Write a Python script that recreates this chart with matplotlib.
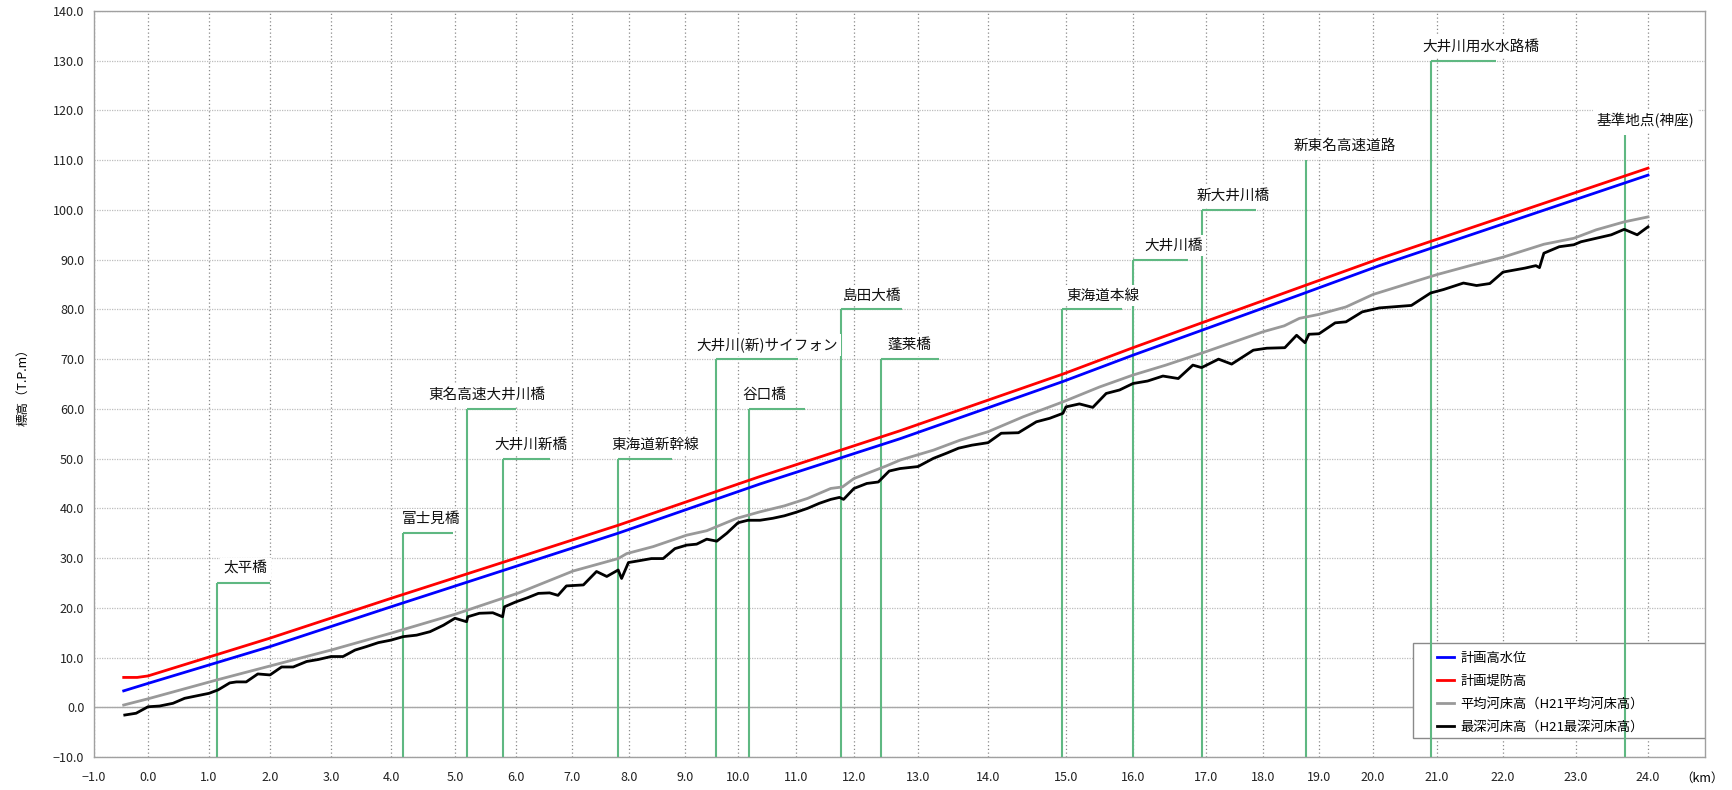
import matplotlib
matplotlib.use("Agg")
import matplotlib.pyplot as plt
from matplotlib.patches import Rectangle
import numpy as np

plt.rcParams['font.family'] = ['Noto Sans CJK JP', 'DejaVu Sans']

# axis ticks (km) and where the Excel chart actually put them (pixels, irregular spacing)
tick_km = list(range(-1, 26))
grid_px = [94, 148, 209, 270, 331, 391, 455, 516, 572, 629, 685, 738, 796, 854,
           918, 988, 1066, 1133, 1206, 1263, 1319, 1373, 1437, 1503, 1576, 1648, 1720]
y_ticks = list(range(-10, 141, 10))

# 計画堤防高
red_km = [-0.45, -0.2, 0.0, 2.0, 4.0, 7.81, 10.38, 12.72, 14.96, 16.0, 18.65, 20.1, 24.0]
red_h = [6.0, 6.0, 6.3, 13.9, 21.9, 36.6, 46.4, 55.6, 67.0, 72.3, 84.4, 90.2, 108.4]

# 計画高水位
blue_km = [-0.45, 0.0, 2.0, 4.0, 7.81, 10.38, 12.72, 14.96, 16.0, 18.65, 20.1, 24.0]
blue_h = [3.3, 4.8, 12.2, 20.2, 35.0, 44.9, 54.0, 65.5, 70.8, 82.9, 88.8, 107.0]

# 平均河床高
gray_km = [-0.45, 0.0, 1.13, 2.0, 3.0, 4.0, 5.0, 6.05, 7.02, 7.81, 7.96, 8.43, 9.03, 9.41, 9.98,
           10.38, 10.8, 11.2, 11.6, 11.8, 12.0, 12.3, 12.5, 12.72, 13.22, 13.6, 14.0, 14.45, 14.96,
           15.5, 16.0, 16.45, 16.94, 17.5, 18.0, 18.38, 18.65, 19.0, 19.5, 20.0, 20.5, 21.0, 21.5,
           22.0, 22.56, 22.97, 23.28, 23.67, 24.0]
gray_h = [0.45, 1.7, 5.5, 8.3, 11.5, 14.9, 18.7, 23.0, 27.4, 29.9, 30.9, 32.3, 34.6, 35.5, 38.0,
          39.3, 40.5, 42.0, 44.0, 44.3, 46.0, 47.5, 48.5, 49.7, 51.7, 53.7, 55.4, 58.4, 61.4,
          64.4, 66.8, 68.8, 71.2, 73.5, 75.5, 76.7, 78.2, 79.0, 80.5, 83.0, 85.0, 87.0, 88.8,
          90.5, 93.1, 94.3, 96.0, 97.6, 98.6]

# 最深河床高
black_km = [-0.43, -0.22, 0.0, 0.19, 0.41, 0.6, 0.8, 1.0, 1.15, 1.34, 1.45, 1.61, 1.8, 2.0, 2.19,
            2.38, 2.6, 2.79, 3.0, 3.2, 3.4, 3.59, 3.79, 4.0, 4.19, 4.4, 4.61, 4.82, 5.0, 5.19,
            5.21, 5.4, 5.62, 5.78, 5.81, 6.0, 6.2, 6.4, 6.6, 6.75, 6.9, 7.2, 7.43, 7.61, 7.81,
            7.87, 7.99, 8.2, 8.4, 8.61, 8.82, 9.03, 9.22, 9.41, 9.6, 9.79, 10.0, 10.17, 10.38,
            10.6, 10.8, 11.0, 11.2, 11.4, 11.6, 11.75, 11.82, 12.0, 12.2, 12.38, 12.55, 12.72,
            13.0, 13.22, 13.41, 13.58, 13.77, 14.0, 14.17, 14.39, 14.62, 14.79, 14.96, 15.0,
            15.2, 15.4, 15.6, 15.8, 16.0, 16.2, 16.41, 16.62, 16.82, 16.94, 17.22, 17.45, 17.83,
            18.07, 18.39, 18.6, 18.75, 18.82, 19.0, 19.3, 19.5, 19.8, 20.1, 20.4, 20.6, 20.9,
            21.1, 21.4, 21.6, 21.8, 22.0, 22.3, 22.45, 22.5, 22.56, 22.77, 22.97, 23.07, 23.28,
            23.49, 23.67, 23.85, 24.0]
black_h = [-1.56, -1.2, 0.1, 0.25, 0.8, 1.8, 2.3, 2.8, 3.5, 4.9, 5.1, 5.1, 6.7, 6.5, 8.1,
           8.1, 9.2, 9.6, 10.2, 10.2, 11.5, 12.2, 13.0, 13.5, 14.2, 14.5, 15.2, 16.5, 17.9, 17.2,
           18.2, 18.9, 19.0, 18.2, 20.2, 21.2, 22.0, 22.9, 23.0, 22.5, 24.4, 24.6, 27.3, 26.3, 27.6,
           25.9, 29.1, 29.5, 29.9, 29.9, 31.9, 32.6, 32.8, 33.8, 33.4, 35.0, 37.1, 37.6, 37.6,
           38.0, 38.5, 39.2, 40.0, 41.0, 41.8, 42.2, 41.8, 44.0, 45.0, 45.3, 47.5, 48.0,
           48.4, 50.05, 51.1, 52.1, 52.7, 53.2, 55.1, 55.2, 57.4, 58.1, 59.1, 60.4,
           61.0, 60.3, 63.1, 63.8, 65.1, 65.6, 66.6, 66.1, 68.8, 68.3, 70.0, 69.0, 71.8,
           72.2, 72.3, 74.8, 73.3, 75.0, 75.1, 77.3, 77.5, 79.5, 80.3, 80.6, 80.8, 83.3,
           84.0, 85.3, 84.8, 85.2, 87.5, 88.3, 88.8, 88.4, 91.3, 92.6, 93.0, 93.6, 94.3,
           95.0, 96.1, 95.0, 96.6]

# bridges / crossings
bridge_names = ['太平橋', '富士見橋', '東名高速大井川橋', '大井川新橋', '東海道新幹線',
                '大井川(新)サイフォン', '谷口橋', '島田大橋', '蓬莱橋', '東海道本線',
                '大井川橋', '新大井川橋', '新東名高速道路', '大井川用水水路橋', '基準地点(神座)']
bridge_km = [1.13, 4.19, 5.2, 5.79, 7.81, 9.58, 10.19, 11.78, 12.42, 14.95,
             16.0, 16.95, 18.76, 20.9, 23.68]
bridge_top = [25, 35, 60, 50, 50, 70, 60, 80, 70, 80, 90, 100, 110, 130, 115]
bridge_end = [2.0, 4.97, 6.0, 6.61, 8.77, 11.03, 11.16, 12.75, 13.3, 15.84,
              16.76, 17.88, None, 21.9, None]
label_km = [1.6, 4.63, 5.52, 6.27, 8.46, 10.5, 10.45, 12.28, 12.86, 15.55,
            16.55, 17.47, 19.48, 21.67, 23.96]

legend_labels = ['計画高水位', '計画堤防高', '平均河床高（H21平均河床高）', '最深河床高（H21最深河床高）']


def fwd(x):
    return np.interp(x, tick_km, grid_px)


def inv(p):
    return np.interp(p, grid_px, tick_km)


W, H = 1733, 790
fig = plt.figure(figsize=(W / 100, H / 100), dpi=100)
ax = fig.add_axes([94 / W, (H - 757) / H, (1705 - 94) / W, (757 - 11) / H])
ax.set_xscale('function', functions=(fwd, inv))
ax.set_xlim(-1, inv(1705))
ax.set_ylim(-10, 140)

ax.set_xticks(tick_km[:-1])
ax.set_xticklabels([f"{v:.1f}".replace('-', '\u2212') for v in tick_km[:-1]])
ax.set_yticks(y_ticks)
ax.set_yticklabels([f"{v:.1f}".replace('-', '\u2212') for v in y_ticks])
ax.tick_params(axis='both', length=0, labelsize=9, colors='#222222')
ax.tick_params(axis='x', pad=10)
ax.tick_params(axis='y', pad=7)

ax.xaxis.grid(True, color='#8a8a8a', linestyle=(0, (1, 2)), linewidth=0.9, zorder=0)
ax.yaxis.grid(True, color='#bdbdbd', linestyle=(0, (1, 1)), linewidth=0.9, zorder=0)
ax.set_axisbelow(True)
ax.axhline(0, color='#a8a8a8', lw=1.0, zorder=1)
for s in ax.spines.values():
    s.set_color('#a0a0a0')
    s.set_linewidth(1.0)

ax.set_ylabel('標高（T.P.m）', fontsize=9)
ax.yaxis.set_label_coords((29 - 94) / (1705 - 94), 0.5)
ax.annotate('（km）', xy=(1.0, 0), xycoords='axes fraction', xytext=(-2, -15),
            textcoords='offset points', ha='center', va='center', fontsize=9)

# bridge markers
green = '#5fb882'
for name, km, top, end, lk in zip(bridge_names, bridge_km, bridge_top, bridge_end, label_km):
    ax.plot([km, km], [-10, top], color=green, lw=1.5, zorder=4.5, solid_capstyle='butt')
    if end is not None:
        ax.plot([km, end], [top, top], color=green, lw=1.5, zorder=4.5, solid_capstyle='butt')
    ax.annotate(name, xy=(lk, top), xytext=(0, 5), textcoords='offset points',
                ha='center', va='bottom', fontsize=10.5, color='#111111', zorder=7,
                bbox=dict(boxstyle='square,pad=0.25', fc='white', ec='none'))

l1, = ax.plot(blue_km, blue_h, color='#0000ff', lw=2.0, zorder=5)
l2, = ax.plot(red_km, red_h, color='#ff0000', lw=2.0, zorder=5)
l3, = ax.plot(gray_km, gray_h, color='#999999', lw=2.0, zorder=5)
l4, = ax.plot(black_km, black_h, color='#000000', lw=2.0, zorder=5)

# legend box like the Excel one
ax.add_patch(Rectangle((0.819, 0.025), 0.181, 0.128, transform=ax.transAxes,
                       facecolor='white', edgecolor='#8a8a8a', lw=1.0, zorder=4))
leg = ax.legend([l1, l2, l3, l4], legend_labels, loc='upper left',
                bbox_to_anchor=((1437 - 94) / 1611, (757 - 652) / 746),
                frameon=False, fontsize=9.5, handlelength=1.3, handletextpad=0.5,
                labelspacing=0.75, borderpad=0, borderaxespad=0)
leg.set_zorder(6)

fig.savefig('out.png', dpi=100)
